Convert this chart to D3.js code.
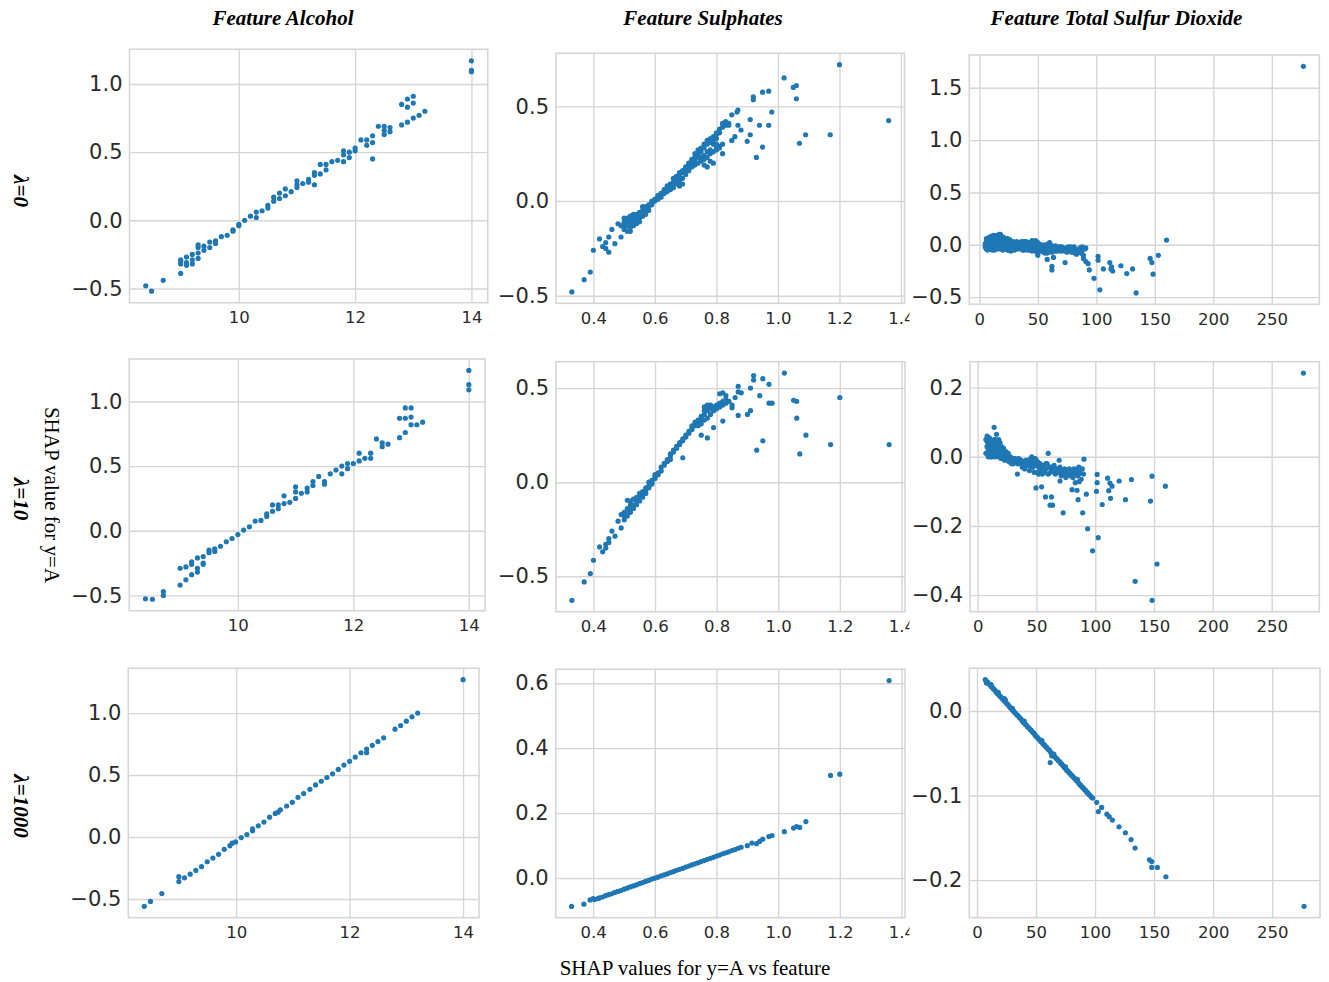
<!DOCTYPE html>
<html>
<head>
<meta charset="utf-8">
<script src="https://cdn.jsdelivr.net/npm/d3@7"></script>
<style>
  body { margin: 0; background: #fff; }
  svg { display: block; }
</style>
</head>
<body>
<svg width="1329" height="982"></svg>
<script>
(function (d3) {
  'use strict';

  // ---- data ----
  const features = ['Feature Alcohol', 'Feature Sulphates', 'Feature Total Sulfur Dioxide'];
  const lambdas = ['λ=0', 'λ=10', 'λ=1000'];
  const yTitle = 'SHAP value for y=A';
  const xTitle = 'SHAP values for y=A vs feature';

  const alcoholTicks = [10, 12, 14];
  const sulphatesTicks = [0.4, 0.6, 0.8, 1.0, 1.2, 1.4];
  const sulfurTicks = [0, 50, 100, 150, 200, 250];

  const yTicksLam0 = [[-0.5, 0, 0.5, 1.0], [-0.5, 0, 0.5], [-0.5, 0, 0.5, 1.0, 1.5]];
  const yTicksLam10 = [[-0.5, 0, 0.5, 1.0], [-0.5, 0, 0.5], [-0.4, -0.2, 0, 0.2]];
  const yTicksLam1000 = [[-0.5, 0, 0.5, 1.0], [0, 0.2, 0.4, 0.6], [-0.2, -0.1, 0]];

  const alcohol0 = [
    [8.4,-0.48],[8.5,-0.52],[8.7,-0.44],[9.0,-0.39],[9.0,-0.30],[9.0,-0.32],[9.0,-0.29],
    [9.1,-0.33],[9.1,-0.27],[9.1,-0.31],[9.2,-0.25],[9.2,-0.29],[9.2,-0.32],[9.3,-0.24],
    [9.3,-0.20],[9.3,-0.28],[9.3,-0.18],[9.4,-0.22],[9.4,-0.19],[9.5,-0.20],[9.5,-0.16],
    [9.6,-0.15],[9.6,-0.17],[9.7,-0.12],[9.8,-0.11],[9.9,-0.07],[9.9,-0.08],[10.0,-0.04],
    [10.0,-0.03],[10.1,0.0],[10.2,0.03],[10.3,0.02],[10.3,0.06],[10.4,0.07],[10.5,0.11],
    [10.5,0.09],[10.6,0.14],[10.6,0.17],[10.7,0.16],[10.7,0.20],[10.8,0.18],[10.8,0.23],
    [10.9,0.21],[11.0,0.26],[11.0,0.29],[11.0,0.24],[11.1,0.27],[11.2,0.30],[11.2,0.28],
    [11.3,0.26],[11.3,0.35],[11.3,0.33],[11.4,0.34],[11.4,0.41],[11.5,0.37],[11.5,0.41],
    [11.6,0.43],[11.7,0.44],[11.8,0.43],[11.8,0.48],[11.8,0.51],[11.9,0.46],[11.9,0.50],
    [12.0,0.51],[12.0,0.53],[12.1,0.59],[12.2,0.55],[12.2,0.59],[12.3,0.57],[12.3,0.62],
    [12.3,0.45],[12.4,0.69],[12.5,0.63],[12.5,0.66],[12.5,0.69],[12.6,0.65],[12.6,0.68],
    [12.8,0.70],[12.8,0.85],[12.9,0.83],[12.9,0.89],[12.9,0.72],[13.0,0.91],[13.0,0.86],
    [13.0,0.75],[13.1,0.77],[13.2,0.80],[14.0,1.10],[14.0,1.09],[14.0,1.17]
  ];

  const alcohol10 = [
    [8.4,-0.526],[8.52,-0.53],[8.71,-0.47],[8.71,-0.50],[9.0,-0.42],[9.0,-0.29],[9.1,-0.38],
    [9.1,-0.28],[9.2,-0.34],[9.2,-0.26],[9.2,-0.24],[9.3,-0.29],[9.3,-0.32],[9.3,-0.21],
    [9.4,-0.20],[9.4,-0.25],[9.4,-0.26],[9.5,-0.17],[9.5,-0.15],[9.6,-0.14],[9.6,-0.16],
    [9.7,-0.12],[9.8,-0.085],[9.9,-0.06],[10.0,-0.03],[10.1,0.005],[10.2,0.03],[10.3,0.075],
    [10.4,0.08],[10.5,0.11],[10.5,0.13],[10.6,0.20],[10.6,0.15],[10.7,0.17],[10.7,0.20],
    [10.8,0.27],[10.8,0.21],[10.9,0.22],[11.0,0.34],[11.0,0.30],[11.0,0.25],[11.1,0.29],
    [11.2,0.30],[11.2,0.33],[11.3,0.35],[11.3,0.38],[11.4,0.42],[11.5,0.38],[11.5,0.36],
    [11.6,0.44],[11.7,0.47],[11.8,0.44],[11.8,0.50],[11.9,0.48],[11.9,0.52],[12.0,0.52],
    [12.1,0.54],[12.1,0.60],[12.2,0.56],[12.3,0.56],[12.3,0.60],[12.4,0.71],[12.5,0.65],
    [12.5,0.68],[12.6,0.67],[12.8,0.72],[12.8,0.87],[12.9,0.76],[12.9,0.87],[12.9,0.95],
    [13.0,0.88],[13.0,0.95],[13.0,0.82],[13.1,0.82],[13.2,0.84],[14.0,1.24],[14.0,1.13],
    [14.0,1.09]
  ];

  const alcohol1000 = [
    [8.38,-0.56],[8.49,-0.52],[8.69,-0.457],[8.99,-0.36],[8.99,-0.32],[9.09,-0.33],
    [9.19,-0.30],[9.29,-0.27],[9.39,-0.24],[9.49,-0.20],[9.59,-0.17],[9.69,-0.14],
    [9.79,-0.10],[9.89,-0.07],[9.93,-0.05],[9.99,-0.04],[10.09,-0.005],[10.19,0.02],
    [10.29,0.05],[10.29,0.065],[10.39,0.09],[10.49,0.12],[10.59,0.16],[10.69,0.19],
    [10.74,0.20],[10.78,0.22],[10.89,0.25],[10.99,0.28],[11.09,0.32],[11.19,0.35],
    [11.3,0.385],[11.4,0.42],[11.5,0.45],[11.6,0.48],[11.7,0.51],[11.8,0.545],[11.9,0.58],
    [12.0,0.61],[12.1,0.645],[12.2,0.68],[12.3,0.71],[12.3,0.68],[12.4,0.74],[12.5,0.77],
    [12.6,0.80],[12.8,0.87],[12.9,0.90],[13.0,0.935],[13.1,0.97],[13.2,1.0],[14.0,1.27]
  ];

  const sulphates0 = [
    [0.33,-0.48],[0.37,-0.415],[0.39,-0.375],[0.40,-0.26],[0.42,-0.20],[0.43,-0.24],
    [0.44,-0.22],[0.44,-0.25],[0.45,-0.19],[0.45,-0.27],[0.46,-0.15],[0.47,-0.225],
    [0.48,-0.12],[0.49,-0.19],[0.49,-0.13],
    [0.50,-0.12],[0.50,-0.14],[0.50,-0.09],[0.50,-0.15],[0.51,-0.11],[0.51,-0.13],[0.51,-0.16],
    [0.52,-0.10],[0.52,-0.12],[0.52,-0.08],[0.52,-0.14],[0.53,-0.09],[0.53,-0.11],[0.53,-0.13],
    [0.54,-0.08],[0.54,-0.10],[0.54,-0.07],[0.55,-0.07],[0.55,-0.09],[0.55,-0.06],
    [0.56,-0.06],[0.56,-0.05],[0.56,-0.08],[0.57,-0.04],[0.57,-0.05],[0.57,-0.03],
    [0.58,-0.03],[0.58,-0.02],[0.59,-0.01],[0.59,-0.02],[0.60,0.0],[0.60,0.01],
    [0.61,0.02],[0.61,0.01],[0.62,0.03],[0.62,0.04],[0.62,0.02],[0.63,0.05],[0.63,0.04],
    [0.64,0.06],[0.64,0.08],[0.64,0.05],[0.65,0.08],[0.65,0.09],[0.65,0.07],[0.65,0.06],
    [0.66,0.10],[0.66,0.09],[0.66,0.07],[0.66,0.12],[0.67,0.11],[0.67,0.13],[0.67,0.09],
    [0.68,0.13],[0.68,0.15],[0.68,0.11],[0.68,0.08],[0.69,0.15],[0.69,0.16],[0.69,0.12],
    [0.70,0.17],[0.70,0.18],[0.70,0.14],[0.71,0.19],[0.71,0.20],[0.71,0.17],[0.71,0.16],
    [0.72,0.21],[0.72,0.22],[0.72,0.18],[0.73,0.23],[0.73,0.25],[0.73,0.19],
    [0.74,0.25],[0.74,0.27],[0.74,0.20],[0.75,0.26],[0.75,0.28],[0.75,0.21],[0.75,0.22],
    [0.76,0.28],[0.76,0.30],[0.76,0.22],[0.76,0.19],[0.77,0.30],[0.77,0.32],[0.77,0.23],
    [0.77,0.18],[0.78,0.31],[0.78,0.33],[0.78,0.25],[0.78,0.21],[0.79,0.32],[0.79,0.34],
    [0.79,0.26],[0.80,0.33],[0.80,0.35],[0.80,0.28],[0.81,0.29],[0.82,0.30],[0.82,0.39],
    [0.69,0.09],[0.68,0.085],[0.79,0.20],[0.75,0.23],[0.80,0.27],[0.81,0.28],
    [0.50,-0.11],[0.51,-0.09],[0.52,-0.16],[0.53,-0.07],[0.54,-0.12],[0.55,-0.11],
    [0.56,-0.03],[0.57,-0.07],[0.58,-0.05],[0.59,0.0],[0.61,0.03],[0.63,0.06],[0.64,0.07],
    [0.67,0.10],[0.70,0.16],[0.72,0.20],[0.73,0.21],[0.74,0.23],[0.76,0.24],[0.78,0.27],
    [0.77,0.26],[0.79,0.30],[0.80,0.30],[0.81,0.36],[0.79,0.33],
    [0.80,0.36],[0.81,0.38],[0.83,0.40],[0.82,0.41],[0.83,0.42],[0.84,0.41],[0.84,0.40],
    [0.82,0.25],[0.85,0.455],[0.867,0.47],[0.87,0.48],[0.87,0.40],[0.85,0.32],[0.86,0.34],
    [0.88,0.375],[0.90,0.315],[0.91,0.43],[0.91,0.35],[0.92,0.55],[0.92,0.535],[0.93,0.23],
    [0.94,0.40],[0.95,0.285],[0.95,0.575],[0.97,0.58],[0.97,0.40],[0.98,0.47],[1.02,0.65],
    [1.05,0.60],[1.06,0.61],[1.06,0.54],[1.07,0.305],[1.09,0.35],[1.17,0.35],[1.20,0.72],
    [1.36,0.425]
  ];

  const sulphates10 = [
    [0.33,-0.628],[0.37,-0.53],[0.39,-0.486],[0.40,-0.415],[0.42,-0.344],[0.43,-0.37],
    [0.44,-0.35],[0.44,-0.33],[0.45,-0.32],[0.45,-0.30],[0.46,-0.26],[0.47,-0.287],
    [0.48,-0.207],[0.49,-0.243],[0.49,-0.172],[0.51,-0.096],
    [0.50,-0.18],[0.50,-0.20],[0.50,-0.16],[0.51,-0.16],[0.51,-0.18],[0.51,-0.14],
    [0.52,-0.14],[0.52,-0.16],[0.52,-0.12],[0.52,-0.10],[0.53,-0.12],[0.53,-0.14],[0.53,-0.09],
    [0.54,-0.10],[0.54,-0.12],[0.54,-0.08],[0.55,-0.08],[0.55,-0.10],[0.55,-0.06],
    [0.56,-0.06],[0.56,-0.08],[0.56,-0.05],[0.57,-0.04],[0.57,-0.06],[0.57,-0.03],
    [0.58,-0.02],[0.58,-0.03],[0.58,0.0],[0.59,0.0],[0.59,0.01],[0.59,-0.01],
    [0.60,0.02],[0.60,0.03],[0.60,0.04],[0.61,0.04],[0.61,0.05],[0.62,0.06],[0.62,0.08],
    [0.63,0.09],[0.63,0.10],[0.64,0.11],[0.64,0.12],[0.65,0.14],[0.65,0.15],[0.65,0.12],
    [0.66,0.16],[0.66,0.17],[0.67,0.18],[0.67,0.19],[0.68,0.20],[0.68,0.21],
    [0.69,0.22],[0.69,0.23],[0.70,0.24],[0.70,0.25],[0.71,0.26],[0.71,0.27],
    [0.72,0.28],[0.72,0.29],[0.72,0.30],[0.73,0.30],[0.73,0.31],[0.73,0.32],
    [0.74,0.32],[0.74,0.33],[0.74,0.30],[0.75,0.34],[0.75,0.35],[0.75,0.31],[0.75,0.33],
    [0.76,0.36],[0.76,0.38],[0.76,0.33],[0.76,0.40],[0.77,0.38],[0.77,0.40],[0.77,0.34],
    [0.77,0.41],[0.78,0.39],[0.78,0.41],[0.78,0.36],[0.79,0.40],[0.79,0.38],
    [0.80,0.41],[0.80,0.39],[0.81,0.42],[0.81,0.40],[0.82,0.43],[0.82,0.41],
    [0.83,0.44],[0.83,0.42],[0.84,0.43],
    [0.69,0.13],[0.75,0.25],[0.77,0.235],[0.79,0.29],[0.82,0.325],[0.81,0.47],[0.82,0.475],
    [0.83,0.46],[0.85,0.395],[0.86,0.45],[0.85,0.41],[0.87,0.51],[0.87,0.48],[0.87,0.355],
    [0.88,0.475],[0.90,0.36],[0.91,0.38],[0.91,0.50],[0.92,0.567],[0.92,0.543],[0.93,0.17],
    [0.94,0.46],[0.95,0.22],[0.95,0.55],[0.97,0.52],[0.97,0.42],[0.98,0.42],[1.02,0.58],
    [1.05,0.435],[1.06,0.43],[1.06,0.34],[1.07,0.15],[1.09,0.25],[1.17,0.20],[1.20,0.45],
    [1.36,0.20]
  ];

  const sulphates1000 = [
    [0.33,-0.087],[0.37,-0.08],[0.39,-0.067],[0.40,-0.063],[0.405,-0.066],[0.415,-0.063],
    [0.42,-0.061],[0.43,-0.058],[0.44,-0.054],[0.45,-0.051],[0.46,-0.048],[0.47,-0.044],
    [0.48,-0.041],[0.49,-0.038],[0.50,-0.034],[0.51,-0.031],[0.52,-0.027],[0.53,-0.024],
    [0.54,-0.021],[0.55,-0.017],[0.56,-0.014],[0.57,-0.010],[0.58,-0.007],[0.59,-0.003],
    [0.60,0.000],[0.61,0.003],[0.62,0.007],[0.63,0.010],[0.64,0.013],[0.65,0.017],
    [0.66,0.020],[0.67,0.024],[0.68,0.027],[0.69,0.030],[0.70,0.034],[0.71,0.037],
    [0.72,0.041],[0.73,0.044],[0.74,0.047],[0.75,0.051],[0.76,0.054],[0.77,0.058],
    [0.78,0.061],[0.79,0.064],[0.80,0.068],[0.81,0.071],[0.82,0.075],[0.83,0.078],
    [0.84,0.081],[0.85,0.085],[0.86,0.088],[0.87,0.092],[0.88,0.095],
    [0.90,0.10],[0.915,0.108],[0.93,0.106],[0.94,0.113],[0.95,0.12],[0.97,0.128],
    [0.98,0.131],[1.02,0.143],[1.05,0.154],[1.06,0.159],[1.07,0.156],[1.09,0.174],
    [1.17,0.316],[1.20,0.32],[1.36,0.608]
  ];

  const sulfur0 = [
    [7,0.0],[7,0.02],[8,-0.02],[8,0.04],[9,-0.01],[9,0.03],[10,0.0],[10,0.05],[10,-0.03],
    [11,0.01],[11,0.06],[12,0.02],[12,0.04],[12,-0.02],[13,0.07],[13,0.0],[13,0.05],
    [14,0.08],[14,0.03],[14,-0.03],[15,0.06],[15,0.01],[15,0.09],[16,0.04],[16,-0.01],
    [17,0.10],[17,0.06],[17,0.02],[18,0.08],[18,0.03],[18,-0.04],[19,0.05],[19,0.0],
    [20,0.07],[20,0.02],[21,0.04],[21,-0.02],[22,0.05],[22,0.0],[23,0.02],[23,-0.03],
    [24,0.03],[24,-0.01],[25,0.0],[25,-0.05],[26,0.02],[26,-0.02],[27,-0.06],[27,0.01],
    [28,-0.01],[28,-0.03],[29,0.0],[30,-0.02],[30,0.01],[31,-0.04],[32,0.0],[32,-0.02],
    [33,0.01],[34,-0.03],[34,0.0],[35,-0.01],[36,-0.04],[36,0.01],[37,-0.02],[38,0.0],
    [38,-0.05],[39,-0.02],[40,0.01],[40,-0.03],[41,-0.01],[42,-0.04],[42,0.0],[43,-0.02],
    [44,0.02],[44,-0.05],[45,0.0],[45,-0.03],[46,0.03],[46,-0.01],[47,0.02],[47,-0.04],
    [48,-0.02],[48,0.01],[49,-0.06],[49,0.0],[50,-0.03],[50,-0.08],[51,-0.02],[52,-0.05],
    [52,0.0],[53,-0.03],[54,-0.06],[55,-0.02],[55,-0.07],[56,-0.04],[57,-0.05],[58,0.0],
    [58,-0.08],[60,-0.03],[60,0.02],[61,-0.05],[62,-0.02],[64,-0.04],[65,-0.06],[66,-0.03],
    [68,-0.05],[69,-0.02],[70,-0.06],[72,-0.04],[74,-0.03],[75,-0.07],[77,-0.05],[78,-0.02],
    [80,-0.06],[82,-0.04],[83,-0.09],[85,-0.07],[86,-0.03],[88,-0.05],[89,-0.10],[90,-0.04],
    [5,0.01],[5,-0.02],[6,0.03],[6,-0.04],[6,0.06],[7,0.05],[7,-0.05],[8,0.07],[8,0.0],
    [9,-0.04],[9,0.06],[10,0.08],[11,-0.05],[11,0.03],[12,0.09],[13,-0.05],[13,0.03],
    [14,0.0],[14,0.06],[15,-0.04],[15,0.03],[16,0.07],[16,0.01],[17,-0.03],[18,0.10],
    [18,0.0],[19,0.08],[19,-0.02],[20,0.05],[20,-0.05],[21,0.07],[21,0.01],[22,0.03],
    [22,-0.04],[23,0.05],[23,0.0],[24,0.06],[24,-0.05],[25,0.03],[26,0.05],[26,-0.05],
    [27,0.03],[27,-0.02],[28,0.02],[29,-0.04],[29,0.03],[30,-0.05],[31,0.01],[32,0.03],
    [33,-0.04],[34,0.02],[35,-0.03],[36,0.03],[37,-0.05],[37,0.01],[38,0.03],[39,-0.04],
    [40,0.03],[41,-0.05],[42,0.02],[43,-0.05],[43,0.01],[44,-0.01],[45,0.04],[45,-0.06],
    [46,-0.04],[47,0.0],[48,0.04],[48,-0.06],[50,0.02],[50,-0.01],[51,-0.06],[53,0.0],
    [54,-0.02],[56,-0.08],[56,0.0],[57,-0.02],[59,-0.05],[61,0.0],[62,-0.07],[63,-0.03],
    [65,-0.01],[67,-0.06],[68,-0.02],[71,-0.03],[73,-0.06],[76,-0.04],[79,-0.07],[81,-0.02],
    [84,-0.06],[87,-0.08],[88,-0.02],
    [277,1.705],[160,0.045],[153,-0.10],[146,-0.13],[147.5,-0.17],[148.5,-0.28],[134,-0.46],
    [131,-0.23],[126,-0.275],[121,-0.20],[111.5,-0.17],[113,-0.21],[114,-0.25],[112.5,-0.23],
    [106,-0.23],[103,-0.43],[101.5,-0.147],[101.5,-0.11],[98,-0.32],[94,-0.24],[89,-0.13],
    [91,-0.16],[93,-0.18],[91,-0.03],[87.5,-0.08],[84.7,-0.05],[81.8,-0.08],[79,-0.035],
    [73.3,-0.17],[76,-0.02],[70.5,-0.02],[63.4,-0.12],[62,-0.205],[62,-0.24],[58,-0.14],
    [59,0.01],[50,-0.10]
  ];

  const sulfur10 = [
    [7,0.05],[7,0.01],[8,0.06],[8,0.03],[9,0.04],[9,0.0],[9,0.015],[10,0.055],[10,0.02],
    [10,0.035],[11,0.03],[11,0.01],[12,0.045],[12,0.02],[12,0.0],[13,0.04],[13,0.01],
    [14,0.085],[14,0.03],[14,0.015],[15,0.025],[15,0.005],[15,0.05],[16,0.065],[16,0.02],
    [17,0.035],[17,0.0],[18,0.05],[18,0.03],[18,0.01],[19,0.02],[19,0.04],[20,0.01],
    [20,0.03],[20,-0.005],[21,0.02],[21,0.0],[22,0.025],[22,0.005],[23,0.01],[23,-0.01],
    [24,0.015],[24,0.0],[25,0.0],[25,-0.01],[26,-0.005],[26,0.01],[27,-0.01],[28,0.0],
    [28,-0.015],[29,-0.01],[30,-0.005],[30,-0.02],[31,-0.01],[32,-0.015],[33,-0.01],
    [34,-0.02],[35,-0.005],[36,-0.015],[37,-0.01],[38,-0.03],[39,-0.015],[40,-0.02],
    [40,-0.035],[41,-0.01],[42,-0.025],[43,-0.015],[44,-0.04],[45,-0.005],[45,-0.02],
    [46,-0.03],[46,0.0],[47,-0.01],[48,-0.045],[48,-0.02],[49,-0.005],[50,-0.025],
    [50,-0.045],[51,-0.015],[52,-0.03],[52,-0.05],[53,-0.02],[54,-0.04],[55,-0.025],
    [55,-0.05],[56,-0.03],[57,-0.045],[58,-0.035],[59,-0.02],[60,-0.05],[61,-0.03],
    [62,-0.045],[63,-0.035],[64,-0.04],[65,-0.025],[66,-0.05],[67,-0.035],[68,-0.045],
    [69,-0.04],[70,-0.03],[71,-0.055],[72,-0.04],[73,-0.05],[74,-0.035],[75,-0.06],
    [76,-0.045],[77,-0.05],[78,-0.035],[79,-0.055],[80,-0.045],[81,-0.06],[82,-0.05],
    [83,-0.075],[84,-0.04],[85,-0.055],[86,-0.03],[87,-0.045],[88,-0.065],[89,-0.035],
    [90,-0.05],
    [8,0.045],[9,0.025],[10,0.045],[11,0.045],[11,0.0],[12,0.03],[13,0.025],[14,0.05],
    [14,0.0],[16,0.04],[16,0.005],[17,0.02],[18,0.04],[19,0.005],[20,0.02],[21,0.01],
    [22,0.015],[24,0.005],[26,0.0],[27,-0.015],[29,-0.02],[32,-0.005],[34,-0.01],
    [36,-0.02],[38,-0.015],[42,-0.01],[44,-0.025],[47,-0.03],[50,-0.01],[53,-0.035],
    [56,-0.045],[58,-0.02],[62,-0.03],[66,-0.035],[70,-0.045],[74,-0.05],[78,-0.045],
    [82,-0.035],[86,-0.05],
    [277,0.242],[159.6,-0.085],[152.5,-0.31],[148.3,-0.056],[147,-0.128],[148.3,-0.415],
    [133.9,-0.36],[130.8,-0.066],[125.7,-0.124],[120.3,-0.07],[110.5,-0.062],[111.5,-0.098],
    [113,-0.12],[114.3,-0.085],[112.5,-0.076],[105.9,-0.138],[102.5,-0.234],[101.6,-0.051],
    [101.6,-0.075],[101,-0.1],[97.7,-0.272],[93.5,-0.208],[92.4,-0.108],[89.3,-0.162],
    [90.4,-0.007],[86.3,-0.072],[85.4,-0.124],[84.5,-0.097],[80.3,-0.095],[72.7,-0.162],
    [70,-0.07],[69.3,-0.01],[62.8,-0.116],[63.7,-0.14],[61.6,-0.14],[60,0.01],[57.7,-0.116],
    [54.4,-0.087],[49.6,-0.09],[33.8,-0.05]
  ];

  const sulfur1000 = [
    [7,0.037],[8,0.035],[9,0.034],[10,0.032],[11,0.031],[12,0.029],[13,0.028],[14,0.026],
    [15,0.025],[16,0.023],[17,0.021],[18,0.020],[19,0.018],[20,0.017],[21,0.015],[22,0.014],
    [23,0.012],[24,0.011],[25,0.009],[26,0.008],[27,0.006],[28,0.004],[29,0.003],[30,0.001],
    [31,0.000],[32,-0.002],[33,-0.003],[34,-0.005],[35,-0.006],[36,-0.008],[37,-0.009],
    [38,-0.011],[39,-0.013],[40,-0.014],[41,-0.016],[42,-0.017],[43,-0.019],[44,-0.020],
    [45,-0.022],[46,-0.023],[47,-0.025],[48,-0.026],[49,-0.028],[50,-0.030],[51,-0.031],
    [52,-0.033],[53,-0.034],[54,-0.036],[55,-0.037],[56,-0.039],[57,-0.040],[58,-0.042],
    [59,-0.043],[60,-0.045],[61,-0.046],[62,-0.048],[63,-0.050],[64,-0.051],[65,-0.053],
    [66,-0.054],[67,-0.056],[68,-0.057],[69,-0.059],[70,-0.060],[71,-0.062],[72,-0.063],
    [73,-0.065],[74,-0.067],[75,-0.068],[76,-0.070],[77,-0.071],[78,-0.073],[79,-0.074],
    [80,-0.076],[81,-0.077],[82,-0.079],[83,-0.080],[84,-0.082],[85,-0.083],[86,-0.085],
    [87,-0.087],[88,-0.088],[89,-0.090],[90,-0.091],[91,-0.093],[92,-0.094],[93,-0.096],
    [94,-0.097],[95,-0.099],[96,-0.100],[97,-0.102],[98,-0.103],
    [8,0.033],[12,0.031],[18,0.022],[23.2,0.0145],[24,0.013],[30,0.003],[40,-0.012],
    [55,-0.035],[65,-0.051],[75,-0.066],[85,-0.081],
    [62,-0.061],[63.3,-0.053],[101.4,-0.108],[102.8,-0.119],[105.6,-0.114],[110,-0.122],
    [112,-0.125],[114.7,-0.129],[120.3,-0.137],[125.7,-0.144],[130.5,-0.152],[133.9,-0.162],
    [146,-0.176],[148,-0.178],[148,-0.185],[152.8,-0.185],[160,-0.196],[277,-0.231]
  ];

  // ---- layout ----
  const frames = [
    [{l: 129.5, r: 487.7, t: 49.3, b: 302.7}, {l: 556, r: 904.5, t: 53.3, b: 303.3}, {l: 969.3, r: 1319.3, t: 55, b: 304.3}],
    [{l: 129.3, r: 485, t: 359, b: 610.7}, {l: 556, r: 905, t: 361.7, b: 611.7}, {l: 970, r: 1319.3, t: 361.7, b: 611.7}],
    [{l: 128.3, r: 479, t: 668.3, b: 917.7}, {l: 555.7, r: 905, t: 669.3, b: 917.7}, {l: 969.3, r: 1320, t: 668.3, b: 917.7}]
  ];
  const titleX = [283, 703, 1116.5];
  const rowY = [191, 499, 806];

  const rows = [
    [alcohol0, sulphates0, sulfur0],
    [alcohol10, sulphates10, sulfur10],
    [alcohol1000, sulphates1000, sulfur1000]
  ];
  const yTicks = [yTicksLam0, yTicksLam10, yTicksLam1000];
  const xTicks = [alcoholTicks, sulphatesTicks, sulfurTicks];
  const xFormats = [d3.format('d'), d3.format('.1f'), d3.format('d')];

  const gridColor = '#d6d6d6';
  const textColor = '#2b2b2b';
  const dotColor = '#1f77b4';

  // matplotlib style 5% margins
  const pad = ([a, b]) => {
    const m = (b - a) * 0.05;
    return [a - m, b + m];
  };

  const svg = d3.select('svg');

  svg.append('clipPath').attr('id', 'clip-mid')
    .append('rect')
    .attr('x', 495).attr('y', 0)
    .attr('width', 414.5).attr('height', 982);

  rows.forEach((row, ri) => {
    row.forEach((data, ci) => {
      const f = frames[ri][ci];
      const g = svg.append('g');
      if (ci === 1) g.attr('clip-path', 'url(#clip-mid)');

      const x = d3.scaleLinear()
        .domain(pad(d3.extent(data, d => d[0])))
        .range([f.l, f.r]);
      const y = d3.scaleLinear()
        .domain(pad(d3.extent(data, d => d[1])))
        .range([f.b, f.t]);

      const xAxisG = g.append('g')
        .attr('transform', `translate(0,${f.b})`)
        .call(d3.axisBottom(x)
          .tickValues(xTicks[ci])
          .tickFormat(xFormats[ci])
          .tickSize(-(f.b - f.t))
          .tickPadding(8.5));

      const yAxisG = g.append('g')
        .attr('transform', `translate(${f.l},0)`)
        .call(d3.axisLeft(y)
          .tickValues(yTicks[ri][ci])
          .tickFormat(d3.format('.1f'))
          .tickSize(-(f.r - f.l))
          .tickPadding(7));

      [xAxisG, yAxisG].forEach(a => {
        a.select('.domain').remove();
        a.selectAll('.tick line')
          .attr('stroke', gridColor)
          .attr('stroke-width', 1.4);
        a.selectAll('.tick text')
          .attr('fill', textColor)
          .style('font-family', '"DejaVu Sans", sans-serif');
      });
      xAxisG.selectAll('.tick text').style('font-size', '16.5px');
      yAxisG.selectAll('.tick text').style('font-size', '21px');

      g.append('rect')
        .attr('x', f.l).attr('y', f.t)
        .attr('width', f.r - f.l).attr('height', f.b - f.t)
        .attr('fill', 'none')
        .attr('stroke', gridColor)
        .attr('stroke-width', 1.6);

      g.append('g').selectAll('circle')
        .data(data)
        .enter().append('circle')
        .attr('cx', d => x(d[0]))
        .attr('cy', d => y(d[1]))
        .attr('r', 2.6)
        .attr('fill', dotColor);
    });
  });

  // column titles
  svg.append('g').selectAll('text')
    .data(features)
    .enter().append('text')
    .attr('x', (d, i) => titleX[i])
    .attr('y', 25)
    .attr('text-anchor', 'middle')
    .style('font-family', '"Liberation Serif", "Times New Roman", serif')
    .style('font-weight', 'bold')
    .style('font-style', 'italic')
    .style('font-size', '21px')
    .text(d => d);

  // row labels (rotated clockwise)
  svg.append('g').selectAll('text')
    .data(lambdas)
    .enter().append('text')
    .attr('transform', (d, i) => `translate(13.5,${rowY[i]}) rotate(90)`)
    .attr('text-anchor', 'middle')
    .style('font-family', '"Liberation Serif", "Times New Roman", serif')
    .style('font-weight', 'bold')
    .style('font-style', 'italic')
    .style('font-size', '21px')
    .text(d => d);

  svg.append('text')
    .attr('transform', 'translate(44.5,495) rotate(90)')
    .attr('text-anchor', 'middle')
    .style('font-family', '"Liberation Serif", "Times New Roman", serif')
    .style('font-size', '21px')
    .text(yTitle);

  svg.append('text')
    .attr('x', 695)
    .attr('y', 975)
    .attr('text-anchor', 'middle')
    .style('font-family', '"Liberation Serif", "Times New Roman", serif')
    .style('font-size', '21px')
    .text(xTitle);

}(d3));
</script>
</body>
</html>
